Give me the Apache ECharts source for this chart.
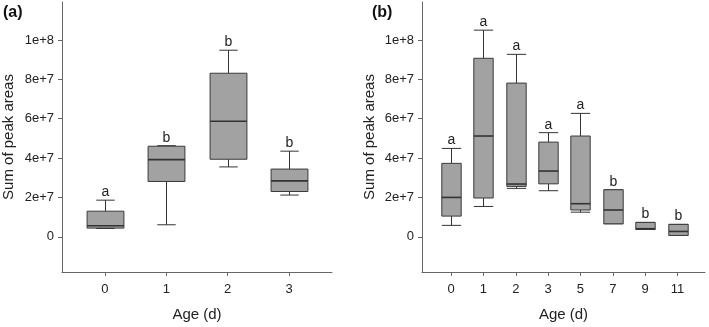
<!DOCTYPE html>
<html>
<head>
<meta charset="utf-8">
<script src="https://cdn.jsdelivr.net/npm/echarts@6/dist/echarts.min.js"></script>
<style>
html,body{margin:0;padding:0;background:#fff}
#main{width:709px;height:327px}
</style>
</head>
<body>
<div id="main"></div>
<script>
// panel (a)
var agesA=['0','1','2','3']
// [low, q1, median, q3, high]
var statsA=[
	[4.2e6,4.4e6,5.6e6,13.0e6,18.6e6],
	[6.1e6,28.1e6,39.2e6,46.0e6,46.3e6],
	[35.5e6,39.4e6,58.7e6,83.1e6,94.8e6],
	[21.2e6,23.0e6,28.4e6,34.4e6,43.5e6]
]
var lettersA=['a','b','b','b']

// panel (b)
var agesB=['0','1','2','3','5','7','9','11']
var statsB=[
	[5.8e6,10.5e6,20.0e6,37.3e6,44.9e6],
	[15.4e6,19.7e6,51.2e6,90.7e6,105e6],
	[24.6e6,25.6e6,26.8e6,78.1e6,92.7e6],
	[23.4e6,26.9e6,33.4e6,48.1e6,52.9e6],
	[12.5e6,13.6e6,16.8e6,51.2e6,62.7e6],
	[6.6e6,6.6e6,13.6e6,23.9e6,23.9e6],
	[3.7e6,3.7e6,4.1e6,7.3e6,7.3e6],
	[0.7e6,0.7e6,2.7e6,6.3e6,6.3e6]
]
var lettersB=['a','a','a','a','a','b','b','b']

var yTicks=[0,2e7,4e7,6e7,8e7,1e8]
var yTickLabels=['0','2e+7','4e+7','6e+7','8e+7','1e+8']

var FONT='Liberation Sans, Arial, sans-serif'
var AXIS='#666'

function rows(stats){
	var out=[]
	for(var i=0;i<stats.length;i++){
		out.push([i].concat(stats[i]))
	}
	return out
}

function boxRender(letters,boxW,capW){
	return function(params,api){
		var x=api.value(0)
		var lo=api.coord([x,api.value(1)])
		var q1=api.coord([x,api.value(2)])
		var md=api.coord([x,api.value(3)])
		var q3=api.coord([x,api.value(4)])
		var hi=api.coord([x,api.value(5)])
		var hb=api.size([boxW,0])[0]/2
		var hc=api.size([capW,0])[0]/2
		var cx=Math.round(lo[0])+0.5
		var ln={stroke:'#333',lineWidth:1}
		return {type:'group',children:[
			{type:'line',shape:{x1:cx,y1:hi[1],x2:cx,y2:q3[1]},style:ln},
			{type:'line',shape:{x1:cx,y1:q1[1],x2:cx,y2:lo[1]},style:ln},
			{type:'line',shape:{x1:cx-hc,y1:hi[1],x2:cx+hc,y2:hi[1]},style:ln},
			{type:'line',shape:{x1:cx-hc,y1:lo[1],x2:cx+hc,y2:lo[1]},style:ln},
			{type:'rect',shape:{x:cx-hb,y:q3[1],width:hb*2,height:q1[1]-q3[1]},
				style:{fill:'#a2a2a2',stroke:'#3a3a3a',lineWidth:1}},
			{type:'line',shape:{x1:cx-hb,y1:md[1],x2:cx+hb,y2:md[1]},style:{stroke:'#333',lineWidth:1.6}},
			{type:'text',style:{text:letters[params.dataIndex],x:cx,y:hi[1]-1,
				align:'center',verticalAlign:'bottom',font:'14px '+FONT,fill:'#222'}}
		]}
	}
}

function yAxis(idx,gap){
	return {
		type:'value',gridIndex:idx,min:-1.79e7,max:1.193e8,
		name:'Sum of peak areas',nameLocation:'middle',nameGap:gap,
		nameTextStyle:{fontFamily:FONT,fontSize:15,color:'#222'},
		axisLine:{show:true,onZero:false,lineStyle:{color:AXIS,width:1}},
		axisTick:{show:true,length:4,customValues:yTicks,lineStyle:{color:AXIS}},
		axisLabel:{customValues:yTicks,margin:8,fontFamily:FONT,fontSize:13,color:'#222',
			formatter:function(v){return yTickLabels[yTicks.indexOf(v)]}},
		splitLine:{show:false}
	}
}

function xAxis(idx,ages,mn,mx){
	var pos=ages.map(function(a,i){return i})
	return {
		type:'value',gridIndex:idx,min:mn,max:mx,
		name:'Age (d)',nameLocation:'middle',nameGap:35,
		nameTextStyle:{fontFamily:FONT,fontSize:15,color:'#222'},
		axisLine:{show:true,onZero:false,lineStyle:{color:AXIS,width:1}},
		axisTick:{show:true,length:4,customValues:pos,lineStyle:{color:AXIS}},
		axisLabel:{customValues:pos,margin:11,fontFamily:FONT,fontSize:13,color:'#222',
			formatter:function(v){return ages[v]}},
		splitLine:{show:false}
	}
}

var mychart=echarts.init(document.getElementById('main'),null,{renderer:'canvas'})
var option={
	animation:false,
	backgroundColor:'#fff',
	title:[
		{text:'(a)',left:3,top:5,padding:0,textStyle:{fontFamily:FONT,fontSize:16,fontWeight:'bold',color:'#111'}},
		{text:'(b)',left:372,top:5,padding:0,textStyle:{fontFamily:FONT,fontSize:16,fontWeight:'bold',color:'#111'}}
	],
	grid:[
		{left:61,top:2,width:271,height:270},
		{left:422,top:2,width:283,height:270}
	],
	xAxis:[xAxis(0,agesA,-0.7,3.7),xAxis(1,agesB,-0.9,7.85)],
	yAxis:[yAxis(0,46),yAxis(1,45)],
	series:[
		{type:'custom',xAxisIndex:0,yAxisIndex:0,renderItem:boxRender(lettersA,0.6,0.3),
			encode:{x:0,y:[1,2,3,4,5]},data:rows(statsA)},
		{type:'custom',xAxisIndex:1,yAxisIndex:1,renderItem:boxRender(lettersB,0.6,0.6),
			encode:{x:0,y:[1,2,3,4,5]},data:rows(statsB)}
	]
}
mychart.setOption(option)
</script>
</body>
</html>
